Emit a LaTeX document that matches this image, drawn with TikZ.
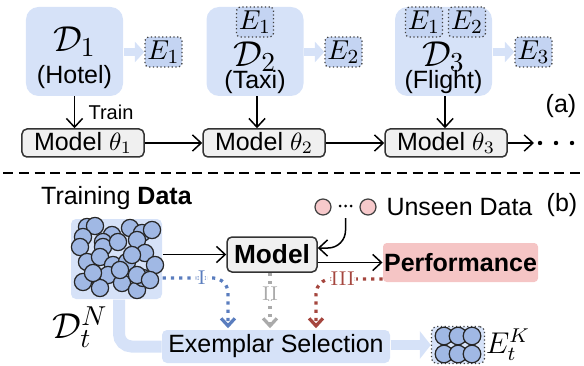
\documentclass[tikz,border=0pt]{standalone}
\usepackage[no-math]{fontspec}
\setmainfont{Liberation Sans}
\usepackage{amsmath}
\usetikzlibrary{positioning,arrows.meta}
\definecolor{boxblue}{RGB}{214,226,248}
\definecolor{eblue}{RGB}{196,212,242}
\definecolor{ballblue}{RGB}{160,184,228}
\definecolor{modelgray}{RGB}{240,240,240}
\definecolor{perfpink}{RGB}{245,197,197}
\definecolor{unseenpink}{RGB}{247,201,203}
\definecolor{pickblue}{RGB}{90,125,190}
\definecolor{pickgray}{RGB}{170,170,170}
\definecolor{pickred}{RGB}{165,70,62}
\tikzset{
  databox/.style={rounded corners=5pt, fill=boxblue, minimum width=38.8pt, minimum height=35.6pt, inner sep=0pt},
  dname/.style={inner sep=0pt, font=\fontsize{15}{17}\selectfont},
  dtext/.style={inner sep=0pt},
  ebox/.style={rounded corners=1.5pt, draw=black!75, densely dotted, line width=0.5pt, fill=eblue,
               minimum width=14.8pt, minimum height=12pt, inner sep=0pt, font=\fontsize{11}{12}\selectfont},
  modelbox/.style={rounded corners=2pt, draw=black!80, fill=modelgray, line width=0.6pt,
                   minimum width=48.8pt, minimum height=11.2pt, inner sep=0pt},
  bigmodel/.style={modelbox, minimum width=36pt, minimum height=14pt, font=\fontsize{10.5}{12}\selectfont},
  clusterbox/.style={rounded corners=2pt, fill=boxblue, minimum width=36.4pt, minimum height=32pt, inner sep=0pt},
  memorybox/.style={rounded corners=2pt, draw=black!75, densely dotted, line width=0.5pt, fill=boxblue,
                    minimum width=21.2pt, minimum height=14.8pt, inner sep=0pt},
  selbox/.style={rounded corners=2pt, fill=boxblue, minimum width=91.2pt, minimum height=13.2pt, inner sep=0pt},
  perfbox/.style={rounded corners=1.5pt, fill=perfpink, minimum width=62pt, minimum height=15.6pt, inner sep=0pt},
  unseen/.style={circle, draw=black!75, fill=unseenpink, line width=0.5pt, minimum size=6.4pt, inner sep=0pt},
  ball/.style={draw=black!85, fill=ballblue, line width=0.5pt},
  fwd/.style={-{Straight Barb[length=3.5pt,width=6.5pt]}, line width=0.6pt},
  blueflow/.style={-{Triangle[length=3.8pt,width=8pt]}, line width=3pt, color=boxblue},
  pick/.style={dotted, line width=1.3pt, rounded corners=6pt, shorten >=0.5pt,
               -{Straight Barb[length=3pt,width=5.5pt]}},
  roman/.style={fill=white, inner sep=0.6pt, font=\fontsize{8.5}{9}\selectfont},
}
\begin{document}
\begin{tikzpicture}[x=0.4pt, y=-0.4pt]
\useasboundingbox (0,0) rectangle (584,365);
%Nodes (a)
\node[databox] (d1) at (74.5,51.5) {};
\node[databox] (d2) at (255,51.5) {};
\node[databox] (d3) at (443.5,51.5) {};
\node[dname] (d1name) at (74.5,42) {$\mathcal{D}_1$};
\node[dtext] (d1text) at (74.5,77) {(Hotel)};
\node[ebox] (d2e1) at (255,22) {$E_1$};
\node[dname] (d2name) at (255,57) {$\mathcal{D}_2$};
\node[dtext] (d2text) at (255,82) {(Taxi)};
\node[ebox] (d3e1) at (424,22) {$E_1$};
\node[ebox] (d3e2) at (467,22) {$E_2$};
\node[dname] (d3name) at (443.5,57) {$\mathcal{D}_3$};
\node[dtext] (d3text) at (443.5,82) {(Flight)};
\node[ebox] (e1) at (163.5,52) {$E_1$};
\node[ebox] (e2) at (343.5,52) {$E_2$};
\node[ebox] (e3) at (533.5,52) {$E_3$};
\node[modelbox] (m1) at (83,143) {Model $\theta_1$};
\node[modelbox] (m2) at (264,143) {Model $\theta_2$};
\node[modelbox] (m3) at (446,143) {Model $\theta_3$};
\coordinate (more) at (534,143);
\node[inner sep=0pt, font=\fontsize{8}{9}\selectfont] (train) at (111,112) {Train};
\node[inner sep=0pt] (taga) at (561,106) {(a)};

%Lines (a)
\draw[blueflow] (d1.east |- e1) -- (e1.west);
\draw[blueflow] (d2.east |- e2) -- (e2.west);
\draw[blueflow] (d3.east |- e3) -- (e3.west);
\draw[fwd] (d1.south) -- (d1.south |- m1.north);
\draw[fwd] ([xshift=0.8pt]d2.south) -- ([xshift=0.8pt]d2.south |- m2.north);
\draw[fwd] ([xshift=0.6pt]d3.south) -- ([xshift=0.6pt]d3.south |- m3.north);
\draw[fwd] (m1) -- (m2);
\draw[fwd] (m2) -- (m3);
\draw[fwd] (m3) -- (more);
\foreach \x in {540,556,572} \fill (\x,143) circle[radius=2.2];

%Separator
\draw[line width=1.1pt, dash pattern=on 4pt off 2.3pt] (3,173) -- (584,173);

%Nodes (b)
\node[inner sep=0pt] (trainhead) at (116.5,198) {Training \textbf{Data}};
\node[clusterbox] (pool) at (116.5,259) {};
\foreach \cx/\cy in {87/227,95/226,83/237,112/235,103/242,130/228,142/233,152/230,
                     80/247,103/247,118/242,137/240,87/262,100/257,113/265,127/262,
                     145/253,155/265,132/255,83/282,100/278,108/275,122/283,137/290,
                     143/278,100/288,137/275,120/270,93/273,150/280}
  \draw[ball] (\cx,\cy) circle[radius=8.6];
\node[dname] (poolname) at (80,327) {$\mathcal{D}_t^N$};
\node[bigmodel] (model) at (272,254.5) {\textbf{Model}};
\node[unseen] (u1) at (323,207) {};
\node[unseen] (u2) at (368,207) {};
\foreach \x in {340,345.5,351} \fill (\x,206) circle[radius=1.5];
\coordinate (unseenout) at (345.5,218);
\node[inner sep=0pt, anchor=west] (unseentext) at (386,207) {Unseen Data};
\node[inner sep=0pt] (tagb) at (562,205) {(b)};
\node[perfbox] (perf) at (460.5,262.5) {\textbf{Performance}};
\node[selbox] (select) at (276,346.5) {Exemplar Selection};
\node[memorybox] (memory) at (458,345) {};
\foreach \cx/\cy in {444/336,458/336,472/336,444/354,458/354,472/354}
  \draw[ball] (\cx,\cy) circle[radius=8.8];
\node[inner sep=0pt, font=\fontsize{11.5}{13}\selectfont] (memname) at (508,345) {$E_t^K$};

%Lines (b)
\draw[line width=4.8pt, color=boxblue, rounded corners=5pt] ([xshift=1pt]pool.south) |- (select.west);
\draw[blueflow, line width=4pt, -{Triangle[length=4.4pt,width=10.8pt]}] (select.east |- memory) -- (memory.west);
\draw[fwd] (pool.east |- model.west) -- (model.west);
\draw[fwd, rounded corners=7pt] (unseenout) |- ([yshift=2.6pt]model.east);
\draw[fwd] (model.east |- perf.west) -- (perf.west);
\draw[pick, pickblue] ([yshift=-7.6pt]pool.east) -| ([xshift=-19.2pt]select.north)
  node[roman, text=pickblue, pos=0.3] {$\mathrm{I}$};
\draw[pick, pickgray] ([xshift=-0.8pt]model.south) -- ([xshift=-0.8pt]model.south |- select.north)
  node[roman, text=pickgray, pos=0.36] {$\mathrm{II}$};
\draw[pick, pickred] ([yshift=-6.6pt]perf.west) -| ([xshift=16pt]select.north)
  node[roman, text=pickred, pos=0.3] {$\mathrm{III}$};
\end{tikzpicture}
\end{document}
